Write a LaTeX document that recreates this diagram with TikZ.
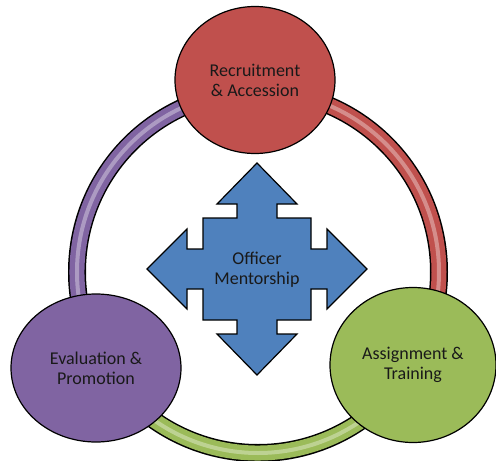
\documentclass[tikz,border=0pt]{standalone}
\usepackage{fontspec}
\setmainfont{Carlito}
\usetikzlibrary{shapes.geometric}
\definecolor{rosso}{HTML}{C0504D}
\definecolor{verde}{HTML}{9BBB59}
\definecolor{viola}{HTML}{8064A2}
\definecolor{blu}{HTML}{4F81BD}

\begin{document}
\begin{tikzpicture}[x=1pt,y=-1pt]
\tikzstyle{palla} = [ellipse, draw=black, line width=1.2pt, align=center, inner sep=0pt, font=\fontsize{18}{20}\selectfont, text=black!90]
\tikzstyle{fascia} = [line width=15pt]
\tikzstyle{riflesso} = [line width=4pt, opacity=.35, white]
\useasboundingbox (0,0) rectangle (496,461);
% anello
\coordinate (c) at (258,272);
\draw[line width=18pt] (c) circle (181);
\draw[fascia, rosso] (c) ++(-90:181) arc (-90:31:181);
\draw[fascia, verde] (c) ++(31:181) arc (31:150:181);
\draw[fascia, viola] (c) ++(150:181) arc (150:270:181);
\draw[riflesso] (c) ++(-90:181) arc (-90:270:181);
% palle
\node[palla, fill=rosso, minimum width=160, minimum height=147] (v1) at (255,80) {Recruitment\\\& Accession};
\node[palla, fill=verde, minimum width=166, minimum height=155] (v2) at (413,365) {Assignment \&\\Training};
\node[palla, fill=viola, minimum width=170, minimum height=148] (v3) at (96,368) {Evaluation \&\\Promotion};
% freccia centrale
\begin{scope}[shift={(257,269)}]
\draw[fill=blu, line width=1.2pt, line join=miter]
  (0,-106) -- (40,-65) -- (20,-65) -- (20,-51) -- (54,-51) -- (54,-20) -- (70,-20) -- (70,-40)
  -- (110,0) -- (70,40) -- (70,20) -- (54,20) -- (54,51) -- (20,51) -- (20,65) -- (40,65)
  -- (0,106) -- (-40,65) -- (-20,65) -- (-20,51) -- (-54,51) -- (-54,20) -- (-70,20) -- (-70,40)
  -- (-110,0) -- (-70,-40) -- (-70,-20) -- (-54,-20) -- (-54,-51) -- (-20,-51) -- (-20,-65) -- (-40,-65) -- cycle;
\node[align=center, font=\fontsize{18}{20}\selectfont, text=black!90] (v4) at (0,1) {Officer\\Mentorship};
\end{scope}
\end{tikzpicture}
\end{document}
